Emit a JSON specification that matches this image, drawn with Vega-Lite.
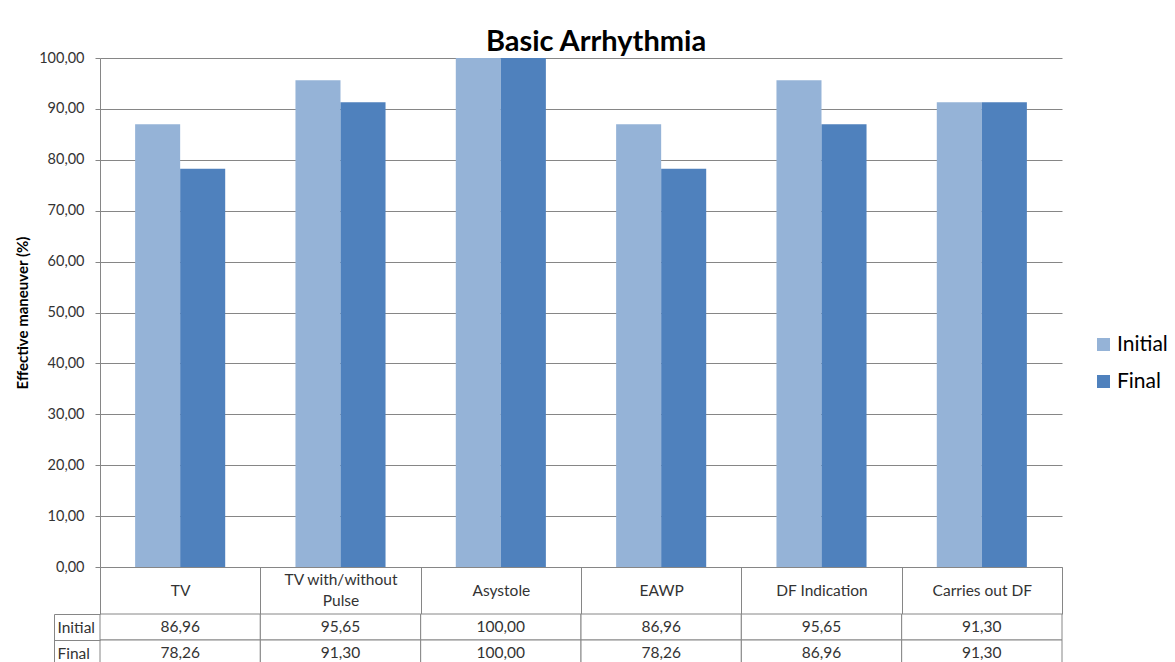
{
  "$schema": "https://vega.github.io/schema/vega-lite/v6.json",
  "padding": {"left": 15, "top": 28, "right": 0, "bottom": 0},
  "config": {
    "font": "Lato",
    "locale": {"number": {"decimal": ",", "thousands": ".", "grouping": [3], "currency": ["", ""]}},
    "view": {"stroke": null},
    "axis": {"labelColor": "#333333", "labelFont": "Lato", "domainColor": "#868686", "tickColor": "#868686", "gridColor": "#868686", "titleColor": "#000000"}
  },
  "datasets": {
    "d": [
      {"cat": "TV", "series": "Initial", "value": 86.96},
      {"cat": "TV", "series": "Final", "value": 78.26},
      {"cat": "TV with/without Pulse", "series": "Initial", "value": 95.65},
      {"cat": "TV with/without Pulse", "series": "Final", "value": 91.30},
      {"cat": "Asystole", "series": "Initial", "value": 100.00},
      {"cat": "Asystole", "series": "Final", "value": 100.00},
      {"cat": "EAWP", "series": "Initial", "value": 86.96},
      {"cat": "EAWP", "series": "Final", "value": 78.26},
      {"cat": "DF Indication", "series": "Initial", "value": 95.65},
      {"cat": "DF Indication", "series": "Final", "value": 86.96},
      {"cat": "Carries out DF", "series": "Initial", "value": 91.30},
      {"cat": "Carries out DF", "series": "Final", "value": 91.30}
    ]
  },
  "bounds": "flush",
  "spacing": 47,
  "vconcat": [
    {
      "width": 962,
      "height": 509,
      "title": {"text": "Basic Arrhythmia", "fontSize": 29, "fontWeight": "bold", "font": "Lato", "color": "#000000", "anchor": "middle", "frame": "group", "dx": 15, "baseline": "alphabetic", "offset": -30},
      "data": {"name": "d"},
      "mark": {"type": "bar"},
      "encoding": {
        "x": {
          "field": "cat", "type": "nominal",
          "sort": ["TV", "TV with/without Pulse", "Asystole", "EAWP", "DF Indication", "Carries out DF"],
          "scale": {"paddingInner": 0, "paddingOuter": 0},
          "axis": {
            "title": null, "labelAngle": 0, "tickBand": "extent", "tickSize": 47,
            "labelBaseline": "middle",
            "labelPadding": {"condition": {"test": "datum.value == 'TV with/without Pulse'", "value": -35}, "value": -24},
            "labelFontSize": 15.5,
            "labelLineHeight": 21, "labelExpr": "datum.label == 'TV with/without Pulse' ? ['TV with/without', 'Pulse'] : datum.label"
          }
        },
        "xOffset": {"field": "series", "type": "nominal", "sort": ["Initial", "Final"], "scale": {"paddingOuter": 0.78, "paddingInner": 0}},
        "y": {
          "field": "value", "type": "quantitative",
          "scale": {"domain": [0, 100]},
          "axis": {
            "title": "Effective maneuver (%)", "titleFontSize": 15, "titleFontWeight": "bold", "titlePadding": 8,
            "format": ".2f", "values": [0, 10, 20, 30, 40, 50, 60, 70, 80, 90, 100],
            "tickSize": 5, "labelPadding": 11, "labelFontSize": 14.5, "grid": true
          }
        },
        "color": {
          "field": "series", "type": "nominal",
          "scale": {"domain": ["Initial", "Final"], "range": ["#95B3D7", "#4F81BD"]},
          "legend": {
            "title": null, "orient": "none", "legendX": 993, "legendY": 276,
            "symbolType": "square", "symbolSize": 170, "symbolStrokeWidth": 0,
            "labelFontSize": 21, "labelColor": "#000000", "labelOffset": 3, "rowPadding": 15
          }
        }
      }
    },
    {
      "width": 962,
      "height": 52,
      "data": {"name": "d"},
      "layer": [
        {
          "mark": {"type": "rect", "fill": "#ffffff", "stroke": "#868686", "strokeWidth": 1},
          "encoding": {
            "x": {"field": "cat", "type": "nominal", "sort": ["TV", "TV with/without Pulse", "Asystole", "EAWP", "DF Indication", "Carries out DF"], "scale": {"paddingInner": 0, "paddingOuter": 0}, "axis": null},
            "y": {
              "field": "series", "type": "nominal", "sort": ["Initial", "Final"],
              "scale": {"paddingInner": 0, "paddingOuter": 0},
              "axis": {"title": null, "offset": 46, "tickSize": -46, "tickBand": "extent", "labelAlign": "left", "labelPadding": 43, "labelFontSize": 15.5, "labelColor": "#333333", "domain": true}
            }
          }
        },
        {
          "mark": {"type": "text", "fontSize": 15.5, "color": "#333333", "baseline": "middle"},
          "encoding": {
            "x": {"field": "cat", "type": "nominal", "sort": ["TV", "TV with/without Pulse", "Asystole", "EAWP", "DF Indication", "Carries out DF"]},
            "y": {"field": "series", "type": "nominal", "sort": ["Initial", "Final"]},
            "text": {"field": "value", "type": "quantitative", "format": ".2f"}
          }
        }
      ]
    }
  ]
}
